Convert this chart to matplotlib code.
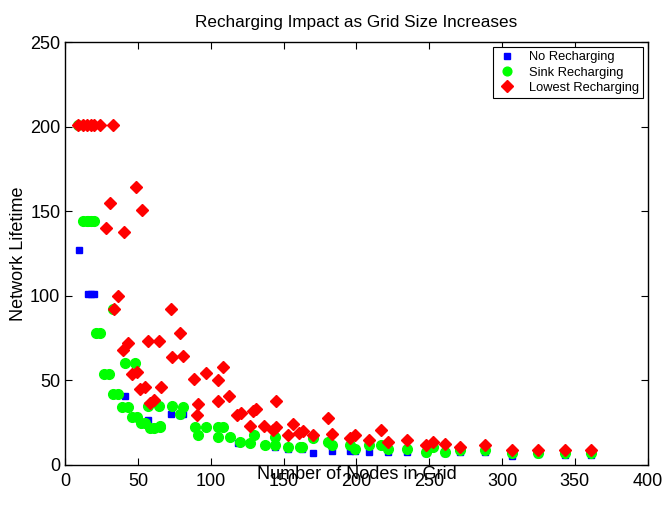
import matplotlib
matplotlib.use("Agg")
import matplotlib.pyplot as plt

plt.rcParams['font.family'] = ['Liberation Sans', 'DejaVu Sans']

# No Recharging (blue squares), mostly hidden behind the green markers
none_x = [9.6, 16, 18, 20, 33, 41, 57, 73, 81, 79, 119, 144, 153, 162.6, 170,
          183, 195.5, 199, 208.6, 221.6, 234.6, 247.7, 260.7, 271, 288,
          306.7, 324.5, 343, 361]
none_y = [127, 101, 101, 101, 92, 41, 26.6, 30, 30, 29.6, 13, 10.7, 9.5, 9.5, 7,
          8.3, 8.3, 8.3, 7.7, 7.7, 7.7, 7, 7, 7.5, 7.5,
          5.3, 6.5, 5.8, 5.8]

# Sink Recharging (green circles)
sink_x = [9, 12, 15, 16, 18, 20, 21, 24, 32.5, 27, 30, 41, 48, 33, 36, 39, 43,
          46, 49, 52, 55, 58, 61, 65, 57, 64.5, 73.4, 81, 79, 65, 89, 91, 96.7,
          105, 108.5, 105, 113, 120, 127, 130, 137, 144, 144, 153, 161, 162.6,
          170, 180.6, 183, 195.5, 199, 208.6, 216.8, 221.6, 234.6, 247.7,
          252.5, 260.7, 271, 288, 306.7, 324.5, 343, 361]
sink_y = [201, 144, 144, 144, 144, 144, 78, 78, 92, 54, 54, 60, 60, 42, 42, 34,
          34, 28, 28, 25, 25, 22, 22, 23, 34.5, 34.5, 34.5, 34, 30, 22.5, 22.5,
          17.8, 22.5, 22.5, 22.5, 16.6, 16.6, 13.6, 13, 17.8, 11.8, 16.6, 11.8,
          10.7, 10.7, 10.7, 16, 13.6, 11.8, 11.8, 9.5, 11.8, 11.8, 9.5, 9.5,
          7.7, 10.7, 7.7, 8.9, 8.9, 7, 7, 7, 7]

# Lowest Recharging (red diamonds)
low_x = [9, 12, 15, 18, 20, 24, 33, 31, 48.7, 53, 28, 40.6, 36.5, 33.7, 72.7,
         79, 57, 64.5, 40, 43, 73.4, 81, 46, 49.4, 51.5, 55, 66, 58, 61, 88.5,
         96.7, 108.5, 105, 105, 112.6, 91, 90.5, 118, 121, 129, 131, 127,
         144.8, 136.5, 144.8, 143, 153, 156.5, 160.5, 163, 170, 180.5, 183,
         195.5, 199, 208.6, 216.8, 221.6, 234.6, 247.7, 252.5, 260.7, 271,
         288, 306.7, 324.5, 343, 361]
low_y = [201, 201, 201, 201, 201, 201, 201, 155, 164.5, 151, 140, 138, 100, 92,
         92, 78, 73.5, 73.5, 68, 72, 63.5, 64.5, 54, 55, 45, 46, 46, 36.7, 38.5,
         51, 54.6, 58, 50, 37.5, 41, 36, 29.6, 29.6, 30.6, 31.6, 33, 23, 38,
         23, 22.5, 20.7, 17.8, 24, 19, 19.8, 17.8, 27.8, 18, 16, 17.5, 14.8,
         20.7, 13.6, 14.8, 11.8, 13.6, 12.4, 10.7, 11.8, 8.9, 8.9, 8.9, 8.9]

fig = plt.figure(figsize=(6.65, 5.08), dpi=100)
ax = fig.add_axes([0.098, 0.085, 0.876, 0.832])

ax.plot(none_x, none_y, 's', color='#0000ff', markersize=5, mec='#0000ff',
        label='No Recharging')
ax.plot(sink_x, sink_y, 'o', color='#00ff00', markersize=7, mec='#00ff00',
        label='Sink Recharging')
ax.plot(low_x, low_y, 'D', color='#ff0000', markersize=6.5, mec='#ff0000',
        label='Lowest Recharging')

ax.set_xlim(0, 400)
ax.set_ylim(0, 250)
ax.set_xticks(range(0, 401, 50))
ax.set_yticks(range(0, 251, 50))
ax.tick_params(direction='in', top=True, right=True, labelsize=13, length=5)
ax.tick_params(axis='x', pad=6)
for s in ax.spines.values():
    s.set_linewidth(1.0)

# x label sits high, right under the axis, as in the original export
ax.set_xlabel('Number of Nodes in Grid', fontsize=13, va='center')
ax.xaxis.set_label_coords(0.5, -0.024)
ax.set_ylabel('Network Lifetime', fontsize=13, labelpad=2)
ax.set_title('Recharging Impact as Grid Size Increases', fontsize=12.3, pad=11)

leg = ax.legend(loc='upper right', fontsize=9.3, fancybox=False,
                edgecolor='black', framealpha=1, borderaxespad=0.4,
                handletextpad=0.9, borderpad=0.3, labelspacing=0.25,
                handlelength=1.6, markerscale=0.9)
leg.get_frame().set_linewidth(0.8)

fig.savefig('out.png', dpi=100)
